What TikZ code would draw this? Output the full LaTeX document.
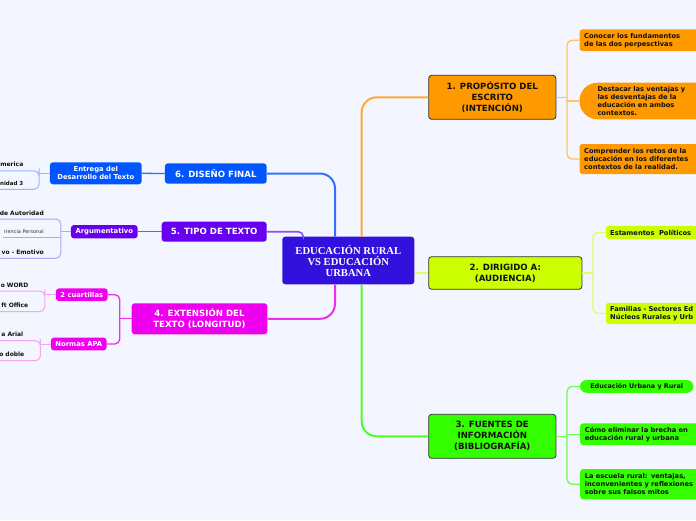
\documentclass[tikz,border=0pt]{standalone}
\usepackage{fontspec}
\setmainfont{DejaVu Sans}
\newfontfamily\rootfont{Liberation Serif}
\usepackage{tikz}
\definecolor{paper}{HTML}{F3F6FE}
\definecolor{core}{HTML}{3311DD}
\definecolor{orng}{HTML}{FF9900}
\definecolor{lime}{HTML}{CCFF00}
\definecolor{grn}{HTML}{33FF00}
\definecolor{mag}{HTML}{EE00EE}
\definecolor{vio}{HTML}{6600EE}
\definecolor{blu}{HTML}{0055FF}
\definecolor{ink}{HTML}{111111}
\definecolor{frame}{HTML}{333333}
\definecolor{orline}{HTML}{FFAA3C}
\definecolor{orleaf}{HTML}{FFC266}
\definecolor{limeline}{HTML}{DDFF66}
\definecolor{grnline}{HTML}{4CFF2A}
\definecolor{grnleaf}{HTML}{6AFF4A}
\definecolor{magline}{HTML}{EE2EEE}
\definecolor{magleaf}{HTML}{F2A6F2}
\definecolor{violine}{HTML}{8550F4}
\definecolor{vioLeaf}{HTML}{B9A0F8}
\definecolor{bluline}{HTML}{3370FF}
\definecolor{bluleaf}{HTML}{9DB5FF}
\tikzset{
  box/.style={rectangle, rounded corners=3pt, inner sep=0pt, align=center},
  root/.style={box, fill=core, text=white, font=\rootfont\fontsize{10.6}{11}\selectfont\bfseries},
  main/.style={box, draw=frame, line width=0.8pt, text=ink, font=\fontsize{8.6}{11}\selectfont\bfseries},
  side/.style={box, text=white, font=\fontsize{8.6}{11}\selectfont\bfseries},
  sub/.style={box, text=white, font=\fontsize{6.8}{8.3}\selectfont\bfseries},
  note/.style={box, anchor=west, align=left, inner xsep=4.7pt, text width=118pt, text=ink,
               font=\fontsize{6.7}{8}\selectfont\bfseries},
  leaf/.style={anchor=base east, inner sep=1pt, text=ink, font=\fontsize{6}{7}\selectfont\bfseries},
  trunk/.style={line width=2pt, rounded corners=15pt},
  twig/.style={line width=1.3pt, rounded corners=5pt},
  stem/.style={line width=1pt, rounded corners=5pt}
}
\begin{document}
\begin{tikzpicture}[x=1pt, y=-1pt]
  \useasboundingbox (0,0) rectangle (696,520);
  \fill[paper] (0,0) rectangle (696,520);
  \clip (0,0) rectangle (696,520);
  \node[root, minimum width=132pt, minimum height=47.6pt] (c) at (348.3,260.5) {EDUCACIÓN RURAL\\VS EDUCACIÓN\\URBANA};
  \node[main, fill=orng, minimum width=127.3pt, minimum height=44pt] (n1) at (492.3,97.3) {1. PROPÓSITO DEL\\ESCRITO\\(INTENCIÓN)};
  \node[main, fill=lime, minimum width=153.3pt, minimum height=32.6pt] (n2) at (505.3,273) {2. DIRIGIDO A:\\(AUDIENCIA)};
  \node[main, fill=grn, minimum width=127.3pt, minimum height=44pt] (n3) at (492.3,436.3) {3. FUENTES DE\\INFORMACIÓN\\(BIBLIOGRAFÍA)};
  \node[side, fill=mag, minimum width=135.6pt, minimum height=31pt] (n4) at (199.5,318.8) {4. EXTENSIÓN DEL\\TEXTO (LONGITUD)};
  \node[side, fill=vio, minimum width=105pt, minimum height=20pt] (n5) at (214.2,231.7) {5. TIPO DE TEXTO};
  \node[side, fill=blu, minimum width=101.7pt, minimum height=20.4pt] (n6) at (215.8,173.5) {6. DISEÑO FINAL};

  \node[note, fill=orng, minimum height=21.7pt] (o1) at (579.3,40.2) {Conocer los fundamentos\\de las dos perpesctivas};
  \node[note, fill=orng, minimum height=36.6pt, inner xsep=18pt, rounded corners=18pt] (o2) at (579.3,101) {Destacar las ventajas y\\las desventajas de la\\educación en ambos\\contextos.};
  \node[note, fill=orng, minimum height=30pt] (o3) at (579.3,159) {Comprender los retos de la\\educación en los diferentes\\contextos de la realidad.};
  \node[note, fill=lime, minimum height=13.3pt, inner xsep=4.3pt] (y1) at (605.7,232.4) {Estamentos\ \ Políticos};
  \node[note, fill=lime, minimum height=21.3pt, inner xsep=4.3pt] (y2) at (605.7,313.4) {Familias - Sectores Ed\\Núcleos Rurales y Urb};
  \node[box, fill=grn, minimum width=113.3pt, minimum height=12.7pt, rounded corners=6.3pt, text=ink,
        font=\fontsize{6.4}{8}\selectfont\bfseries] (g1) at (636.7,386.4) {Educación Urbana y Rural};
  \node[note, fill=grn, minimum height=21.7pt] (g2) at (580,434.2) {Cómo eliminar la brecha en\\educación rural y urbana};
  \node[note, fill=grn, minimum height=30.3pt] (g3) at (580,484.2) {La escuela rural: ventajas,\\inconvenientes y reflexiones\\sobre sus falsos mitos};

  \node[sub, fill=blu, minimum width=91.7pt, minimum height=22pt] (ent) at (95.8,173.3) {Entrega del\\Desarrollo del Texto};
  \node[sub, fill=vio, minimum width=66.7pt, minimum height=13.3pt] (arg) at (104.3,231.7) {Argumentativo};
  \node[sub, fill=mag, minimum width=51.7pt, minimum height=12.7pt] (cua) at (81.8,294.7) {2 cuartillas};
  \node[sub, fill=mag, minimum width=55.7pt, minimum height=12.7pt] (apa) at (78.8,344) {Normas APA};

  \node[leaf] (e1) at (24.5,166.8) {merica};
  \node[leaf, font=\fontsize{5.5}{6}\selectfont\bfseries] (e2) at (24.5,185.3) {nidad 3};
  \node[leaf] (a1) at (45,215) {de Autoridad};
  \node[leaf, font=\fontsize{5}{6}\selectfont, text=frame] (a2) at (45,233.3) {riencia Personal};
  \node[leaf] (a3) at (45,254.3) {vo - Emotivo};
  \node[leaf] (c1) at (29.5,287) {o WORD};
  \node[leaf] (c2) at (29.5,307.7) {ft Office};
  \node[leaf] (p1) at (24.5,336.7) {a Arial};
  \node[leaf] (p2) at (25.5,356.7) {o doble};
  \coordinate (e1u) at ([yshift=-4pt]e1.base west);
  \coordinate (e2u) at ([yshift=-4pt]e2.base west);
  \coordinate (a1u) at ([yshift=-4pt]a1.base west);
  \coordinate (a2u) at ([yshift=-4pt]a2.base west);
  \coordinate (a3u) at ([yshift=-4pt]a3.base west);
  \coordinate (c1u) at ([yshift=-4pt]c1.base west);
  \coordinate (c2u) at ([yshift=-4pt]c2.base west);
  \coordinate (p1u) at ([yshift=-4pt]p1.base west);
  \coordinate (p2u) at ([yshift=-4pt]p2.base west);

  \draw[trunk, draw=orline] ([xshift=13.4pt]c.north) |- (n1.west);
  \draw[trunk, draw=bluline] ([xshift=-13.3pt]c.north) |- (n6.east);
  \draw[trunk, draw=violine, line width=1.6pt, rounded corners=5pt] (n5.east) -| ([xshift=-45pt]c.north);
  \draw[trunk, draw=magline] ([xshift=-13.3pt]c.south) |- (n4.east);
  \draw[trunk, draw=grnline] ([xshift=13.4pt]c.south) |- (n3.west);
  \draw[trunk, draw=limeline, line width=1.2pt] (c.east |- n2.west) -- (n2.west);

  \coordinate (j1) at ([xshift=10.7pt]n1.east);
  \coordinate (j2) at ([xshift=10.7pt]n2.east);
  \coordinate (j3) at ([xshift=10.7pt]n3.east);
  \coordinate (j4) at ([xshift=-11.7pt]n4.west);
  \draw[twig, draw=orleaf] (o1.west) -| (j1) |- (o3.west);
  \draw[twig, draw=orleaf] (n1.east) -- (j1) (j1 |- o2.west) -- (o2.west);
  \draw[twig, draw=limeline] (y1.west) -| (j2) |- (y2.west);
  \draw[twig, draw=limeline] (n2.east) -- (j2);
  \draw[twig, draw=grnleaf] (g1.west) -| (j3) |- (g3.west);
  \draw[twig, draw=grnleaf] (n3.east) -- (j3) (j3 |- g2.west) -- (g2.west);
  \draw[twig, draw=bluline] (n6.west) -- (ent.east);
  \draw[twig, draw=violine] (n5.west) -- (arg.east);
  \draw[twig, draw=magline] (cua.east) -| (j4) |- (apa.east);
  \draw[twig, draw=magline] (n4.west) -- (j4);

  \coordinate (k1) at ([xshift=-10.7pt]ent.west);
  \coordinate (k2) at ([xshift=-10pt]arg.west);
  \coordinate (k3) at ([xshift=-11pt]cua.west);
  \coordinate (k4) at ([xshift=-10.3pt]apa.west);
  \draw[stem, draw=bluleaf] (e1u) -| (k1) |- (e2u);
  \draw[stem, draw=bluleaf] (ent.west) -- (k1);
  \draw[stem, draw=vioLeaf] (a1u) -| (k2) |- (a3u);
  \draw[stem, draw=vioLeaf] (arg.west) -- (k2) (a2u) -- (a2u -| k2);
  \draw[stem, draw=magleaf] (c1u) -| (k3) |- (c2u);
  \draw[stem, draw=magleaf] (cua.west) -- (k3);
  \draw[stem, draw=magleaf] (p1u) -| (k4) |- (p2u);
  \draw[stem, draw=magleaf] (apa.west) -- (k4);
\end{tikzpicture}
\end{document}
